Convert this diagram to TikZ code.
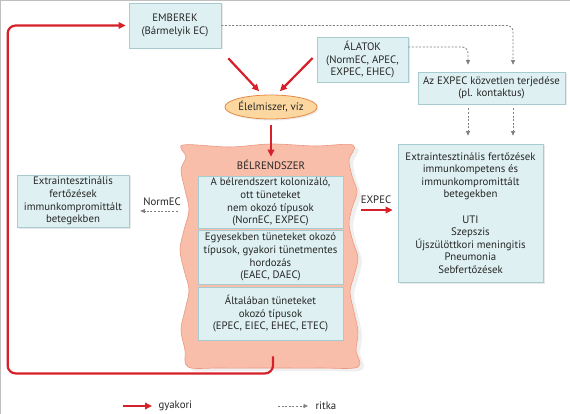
\documentclass[tikz,border=0pt]{standalone}
\usepackage{fontspec}
\setmainfont{PT Sans}
\usetikzlibrary{calc,shapes.geometric,arrows.meta,shadows}
\definecolor{piros}{RGB}{214,32,42}
\definecolor{kek}{RGB}{222,240,241}
\definecolor{kekkeret}{RGB}{166,203,208}
\definecolor{sarga}{RGB}{252,216,160}
\definecolor{sargakeret}{RGB}{228,138,70}
\definecolor{bel}{RGB}{249,190,170}
\definecolor{belkeret}{RGB}{236,152,128}

\begin{document}
\begin{tikzpicture}[x=1pt, y=-1pt,
	every node/.style={font=\fontsize{10.8}{12.6}\selectfont, text=black!85, align=center},
	doboz/.style={draw=kekkeret, fill=kek, line width=0.7pt, inner sep=0pt, drop shadow={opacity=0.18, shadow xshift=1.5pt, shadow yshift=-1.5pt}},
	belso/.style={draw=kekkeret, fill=kek, line width=0.9pt, inner sep=0pt, minimum width=145},
	gyakori/.style={draw=piros, line width=2.2pt, -{Triangle[length=7pt,width=6.5pt]}},
	ritka/.style={draw=black!50, line width=0.8pt, dash pattern=on 2pt off 1.6pt, -{Triangle[length=4.5pt,width=4pt]}}]
			%%%%% START %%%%%
			
			\useasboundingbox (0, 0) rectangle (570, 414);
			\fill[white] (0, 0) rectangle (570, 414);
			\draw[black!25, line width=1.2pt] (0.6, 414) -- (0.6, 0.6) -- (570, 0.6);
			
			% forrasok
			\node[doboz, minimum width=92, minimum height=45] (emberek) at (175, 25.5) {EMBEREK\\(Bármelyik EC)};
			\node[doboz, minimum width=91, minimum height=45] (allatok) at (362.5, 59.5) {ÁLATOK\\(NormEC, APEC,\\EXPEC, EHEC)};
			\node[doboz, minimum width=147, minimum height=32] (direkt) at (491.5, 88) {Az EXPEC közvetlen terjedése\\(pl. kontaktus)};
			\node[ellipse, draw=sargakeret, fill=sarga, line width=0.8pt, minimum width=88, minimum height=24, inner sep=0pt, drop shadow={opacity=0.15, shadow xshift=1.5pt, shadow yshift=-1.5pt}] (elelmiszer) at (271, 107) {Élelmiszer, víz};
			
			% belrendszer
			\path[draw=belkeret, fill=bel, line width=0.6pt, drop shadow={opacity=0.12, shadow xshift=4pt, shadow yshift=-3pt}]
				plot[smooth cycle, tension=0.55] coordinates {(183,145) (230,147) (271,144) (315,146) (353,145)
				(349,160) (352,176) (357,192) (352,208) (349,224) (353,242) (358,258) (354,276) (350,292) (354,312) (358,332) (356,350) (358,367)
				(320,368) (271,368) (220,368) (188,367)
				(185,350) (181,330) (185,310) (189,290) (184,270) (180,250) (184,230) (189,210) (185,190) (181,170) (186,157)};
			\node (belcim) at (271, 165) {BÉLRENDSZER};
			\node[belso, minimum height=52] (kolon) at (270.5, 202) {A bélrendszert kolonizáló,\\ott tüneteket\\nem okozó típusok\\(NornEC, EXPEC)};
			\node[belso, minimum height=54] (tunet) at (270.5, 257) {Egyesekben tüneteket okozó\\típusok, gyakori tünetmentes\\hordozás\\(EAEC, DAEC)};
			\node[belso, minimum height=53] (altal) at (270.5, 313.5) {Általában tüneteket\\okozó típusok\\(EPEC, EIEC, EHEC, ETEC)};
			
			% fertozesek
			\node[doboz, minimum width=112, minimum height=52] (extrabal) at (73, 201) {Extraintesztinális\\fertőzések\\immunkompromittált\\betegekben};
			\node[doboz, minimum width=145, minimum height=138] (extrajobb) at (470.5, 213) {Extraintesztinális fertőzések\\immunkompetens és\\immunkompromittált\\betegekben\\[12.6pt]UTI\\Szepszis\\Újszülöttkori meningitis\\Pneumonia\\Sebfertőzések};
			
			% gyakori utak
			\draw[gyakori] ($(emberek.south east)+(7,10)$) -- ($(elelmiszer.north west)+(21,-7)$);
			\draw[gyakori] ($(allatok.west)+(-4,-1.5)$) -- ($(elelmiszer.north east)+(-24,-7)$);
			\draw[gyakori, shorten <=6pt] (elelmiszer.south) -- (belcim.north);
			\draw[gyakori, rounded corners=8, shorten >=3pt] ($(altal.south)+(2.5,16)$) -- ++(0, 17) -| ($(emberek.west)+(-121,0)$) -- (emberek.west);
			\draw[gyakori] ($(kolon.east)+(18,8)$) -- ($(extrajobb.west)+(-5,-3)$);
			\node (lexpec) at (376, 200) {EXPEC};
			
			% ritka utak
			\draw[ritka, rounded corners=6, shorten >=7pt] (emberek.east) -| ($(direkt.north)+(21.5,0)$);
			\draw[ritka, rounded corners=6, shorten >=7pt] ($(allatok.east)+(0,-12.5)$) -| ($(direkt.north)+(-23.5,0)$);
			\draw[ritka, shorten <=4pt, shorten >=8pt] ($(direkt.south)+(-23.5,0)$) -- ($(extrajobb.north)+(-2.5,0)$);
			\draw[ritka, shorten <=4pt, shorten >=8pt] ($(direkt.south)+(21.5,0)$) -- ($(extrajobb.north)+(42.5,0)$);
			\draw[ritka] ($(kolon.west)+(-20,9)$) -- ($(extrabal.east)+(11,10)$);
			\node (lnormec) at (162, 202) {NormEC};
			
			% jelmagyarazat
			\node[anchor=west] (lgy) at (155, 406) {gyakori};
			\draw[gyakori] ($(lgy.west)+(-32,0)$) -- ($(lgy.west)+(-3,0)$);
			\node[anchor=west] (lri) at (312, 406) {ritka};
			\draw[ritka] ($(lri.west)+(-34,0)$) -- ($(lri.west)+(-4,0)$);
			
			%%%%% END %%%%%
		\end{tikzpicture}
\end{document}
